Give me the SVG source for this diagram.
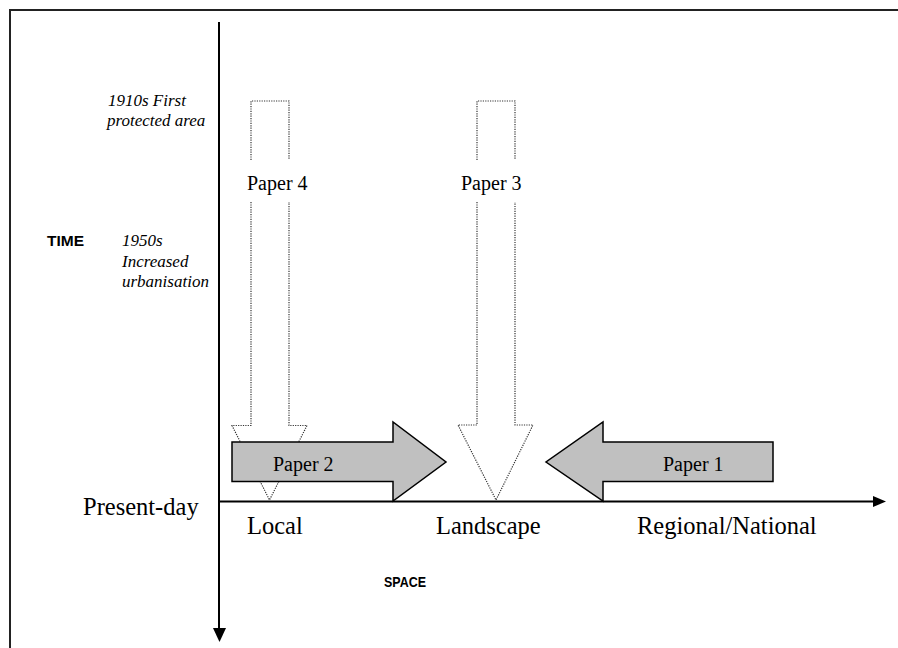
<svg xmlns="http://www.w3.org/2000/svg" width="898" height="648" viewBox="0 0 898 648">
<style>
.serif{font-family:"Liberation Serif","Times New Roman",serif;fill:#000}
.lab{font-size:24.5px}
.pap{font-size:20px}
.ital{font-size:17px;font-style:italic}
.bold{font-family:"Liberation Sans",Arial,sans-serif;font-weight:bold;fill:#000}
.dot{fill:none;stroke:#333;stroke-width:1.2;stroke-dasharray:1.2 1.2}
.gray{fill:#c0c0c0;stroke:#000;stroke-width:1.5;stroke-linejoin:miter}
.axis{stroke:#000;stroke-width:2;fill:none}
</style>
<defs>
<marker id="ah" viewBox="0 0 10 10" refX="10" refY="5" markerWidth="7" markerHeight="7" markerUnits="userSpaceOnUse" orient="auto">
<path d="M0,0 L10,5 L0,10 z" fill="#000"/>
</marker>
</defs>
<rect width="898" height="648" fill="#fff"/>
<path d="M10,660 L10,10 L910,10" fill="none" stroke="#222" stroke-width="2"/>

<g id="paper4">
<path class="dot" d="M251,160 L251,101 L289,101 L289,160"/>
<path class="dot" d="M251,202 L251,425.5 L232,425.5 L269.5,500 L307,425.5 L289,425.5 L289,202"/>
<text class="serif pap" x="247" y="190">Paper 4</text>
</g>
<g id="paper3">
<path class="dot" d="M477,160 L477,101 L515,101 L515,160"/>
<path class="dot" d="M477,202 L477,425 L458,425 L496,500 L533,425 L515,425 L515,202"/>
<text class="serif pap" x="461" y="190">Paper 3</text>
</g>

<g id="connectors">
<line class="axis" x1="219" y1="22" x2="219" y2="628"/>
<path d="M213,628 L226,628 L219.5,642 z" fill="#000"/>
<line class="axis" x1="219" y1="501.5" x2="873" y2="501.5"/>
<path d="M873,496 L873,507 L886,501.5 z" fill="#000"/>
</g>

<g id="paper2">
<path class="gray" d="M232,442 L393,442 L393,422 L446,462 L393,501 L393,481.5 L232,481.5 z"/>
<text class="serif pap" x="273" y="471">Paper 2</text>
</g>
<g id="paper1">
<path class="gray" d="M773,442 L603,442 L603,422 L546,462 L603,501 L603,481.5 L773,481.5 z"/>
<text class="serif pap" x="663" y="471">Paper 1</text>
</g>

<g id="labels">
<text class="serif lab" x="83" y="515">Present-day</text>
<text class="serif lab" x="247" y="534">Local</text>
<text class="serif lab" x="436" y="534">Landscape</text>
<text class="serif lab" x="637" y="534">Regional/National</text>
<text class="bold" x="384" y="587" font-size="15" textLength="42" lengthAdjust="spacingAndGlyphs">SPACE</text>
<text class="bold" x="47" y="246" font-size="15.5">TIME</text>
<text class="serif ital" x="108" y="106">1910s First</text>
<text class="serif ital" x="107" y="126">protected area</text>
<text class="serif ital" x="122" y="246">1950s</text>
<text class="serif ital" x="122" y="267">Increased</text>
<text class="serif ital" x="122" y="287">urbanisation</text>
</g>
</svg>
